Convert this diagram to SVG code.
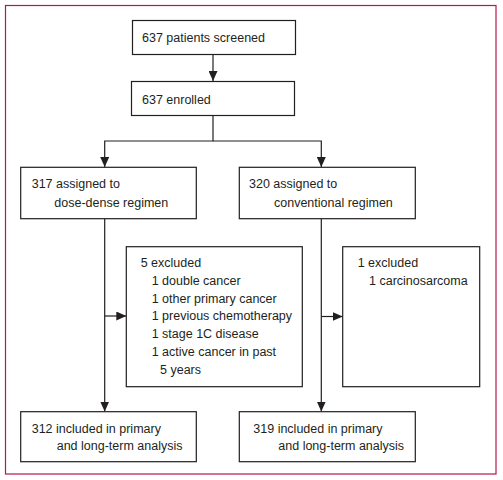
<svg xmlns="http://www.w3.org/2000/svg" width="503" height="480" viewBox="0 0 503 480">
<defs>
<marker id="ah" markerWidth="11" markerHeight="9" refX="10" refY="4.5" orient="auto" markerUnits="userSpaceOnUse">
<path d="M0,0 L10,4.5 L0,9 Z" fill="#231f20"/>
</marker>
<style>
.box{fill:#fff;stroke:#231f20;stroke-width:1.2}
.t{font-family:"Liberation Sans","DejaVu Sans",sans-serif;font-size:12.5px;fill:#231f20}
.c{fill:none;stroke:#231f20;stroke-width:1.2}
</style>
</defs>
<rect x="0" y="0" width="503" height="480" fill="#fff"/>
<rect x="5.5" y="5.5" width="490.5" height="468.5" fill="none" stroke="#b5174a" stroke-width="1.2"/>
<g id="connectors">
<line class="c" x1="213" y1="54.5" x2="213" y2="81" marker-end="url(#ah)"/>
<polyline class="c" points="213,115.5 213,141 104.7,141 104.7,167" marker-end="url(#ah)"/>
<polyline class="c" points="213,141 321.3,141 321.3,167" marker-end="url(#ah)"/>
<line class="c" x1="104.7" y1="218.7" x2="104.7" y2="411.5" marker-end="url(#ah)"/>
<line class="c" x1="321.3" y1="218.7" x2="321.3" y2="411.5" marker-end="url(#ah)"/>
<line class="c" x1="104.7" y1="316" x2="126.3" y2="316" marker-end="url(#ah)"/>
<line class="c" x1="321.3" y1="316.5" x2="342.7" y2="316.5" marker-end="url(#ah)"/>
</g>
<g id="screened">
<rect class="box" x="132.5" y="20.5" width="163" height="34"/>
<text class="t" x="142" y="42">637 patients screened</text>
</g>
<g id="enrolled">
<rect class="box" x="131.5" y="81.5" width="163" height="34"/>
<text class="t" x="142" y="104">637 enrolled</text>
</g>
<g id="dosedense">
<rect class="box" x="20.7" y="167.3" width="175.6" height="51.4"/>
<text class="t" x="31.7" y="188.3">317 assigned to</text>
<text class="t" x="54.3" y="206.5">dose-dense regimen</text>
</g>
<g id="conventional">
<rect class="box" x="239.3" y="167.3" width="176" height="51.4"/>
<text class="t" x="249" y="188.3">320 assigned to</text>
<text class="t" x="274" y="206.5">conventional regimen</text>
</g>
<g id="excluded5">
<rect class="box" x="126.3" y="246.7" width="176" height="140"/>
<text class="t" x="140.7" y="267.3">5 excluded</text>
<text class="t" x="151.7" y="285">1 double cancer</text>
<text class="t" x="151.7" y="302.7">1 other primary cancer</text>
<text class="t" x="151.7" y="320.4">1 previous chemotherapy</text>
<text class="t" x="151.7" y="338.2">1 stage 1C disease</text>
<text class="t" x="151.7" y="356">1 active cancer in past</text>
<text class="t" x="160" y="373.8">5 years</text>
</g>
<g id="excluded1">
<rect class="box" x="342.7" y="246.7" width="137" height="140"/>
<text class="t" x="357.7" y="267.3">1 excluded</text>
<text class="t" x="369" y="285">1 carcinosarcoma</text>
</g>
<g id="included312">
<rect class="box" x="20.7" y="411.7" width="175.6" height="50"/>
<text class="t" x="31.7" y="432.7">312 included in primary</text>
<text class="t" x="56.7" y="450.3">and long-term analysis</text>
</g>
<g id="included319">
<rect class="box" x="239.3" y="411.7" width="176" height="50"/>
<text class="t" x="253.3" y="432.7">319 included in primary</text>
<text class="t" x="278.3" y="450.3">and long-term analysis</text>
</g>
</svg>
